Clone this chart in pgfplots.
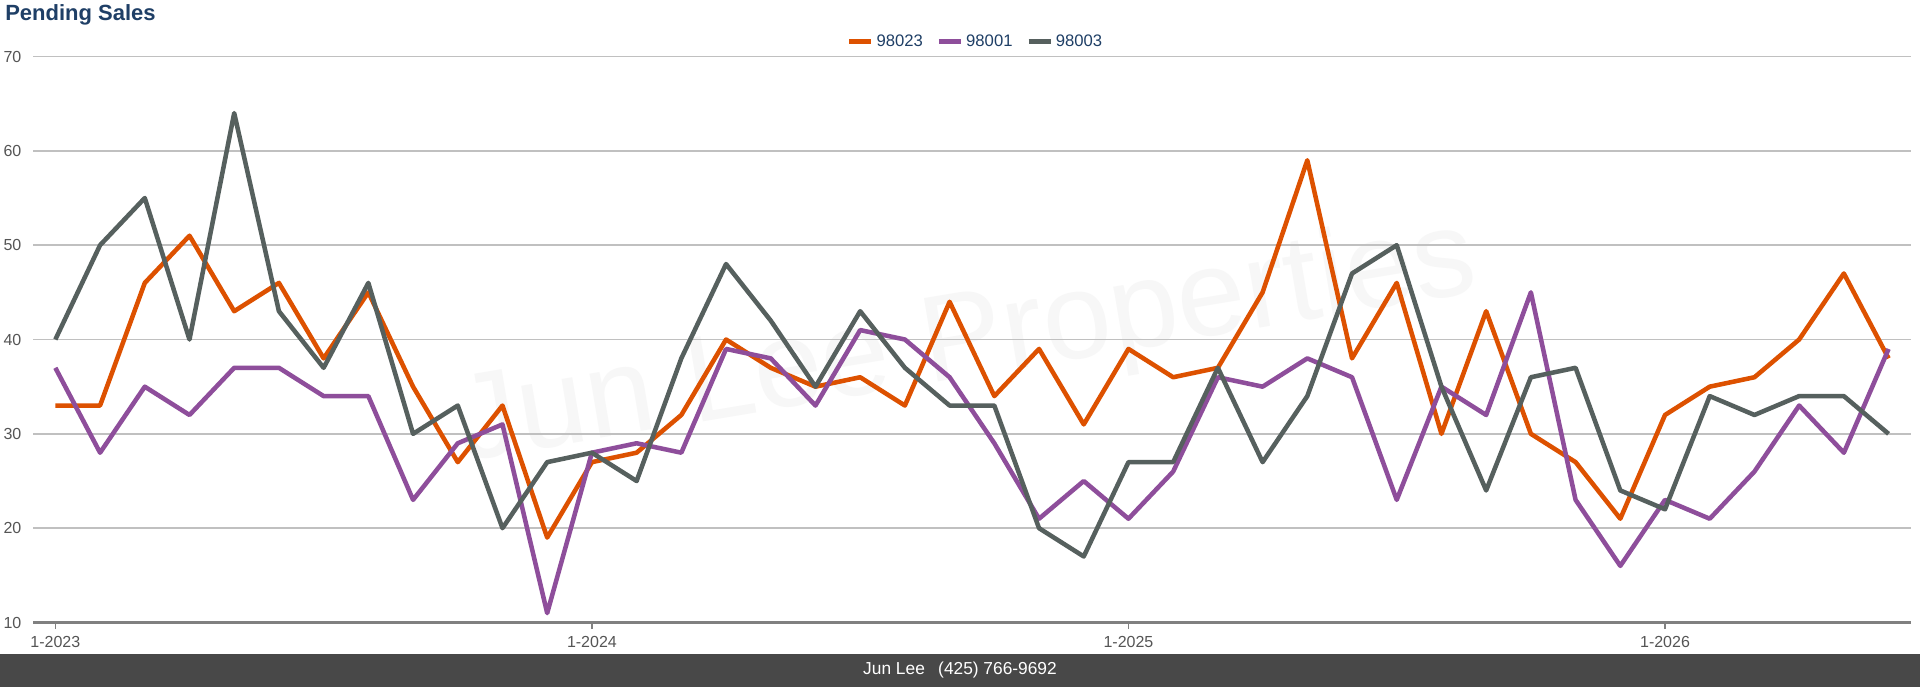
\documentclass[border=0pt]{standalone}
\usepackage{pgfplots}
\pgfplotsset{compat=1.18}
\usepackage{pgfplotstable}
\usepackage{fontspec}
\setmainfont{Liberation Sans}
\definecolor{cOr}{RGB}{221,81,0}
\definecolor{cPu}{RGB}{142,78,155}
\definecolor{cGr}{RGB}{86,96,94}
\definecolor{cTitle}{RGB}{31,63,102}
\definecolor{cFoot}{RGB}{72,72,72}
\definecolor{cTick}{RGB}{85,85,85}
\definecolor{cGrid}{RGB}{192,192,192}
\definecolor{cAxis}{RGB}{128,128,128}
\pgfplotstableread{
i o p g
0 33 37 40
1 33 28 50
2 46 35 55
3 51 32 40
4 43 37 64
5 46 37 43
6 38 34 37
7 45 34 46
8 35 23 30
9 27 29 33
10 33 31 20
11 19 11 27
12 27 28 28
13 28 29 25
14 32 28 38
15 40 39 48
16 37 38 42
17 35 33 35
18 36 41 43
19 33 40 37
20 44 36 33
21 34 29 33
22 39 21 20
23 31 25 17
24 39 21 27
25 36 26 27
26 37 36 37
27 45 35 27
28 59 38 34
29 38 36 47
30 46 23 50
31 30 35 35
32 43 32 24
33 30 45 36
34 27 23 37
35 21 16 24
36 32 23 22
37 35 21 34
38 36 26 32
39 40 33 34
40 47 28 34
41 38 39 30
}\data
\begin{document}
\begin{tikzpicture}[x=0.75pt,y=0.75pt]
\path[use as bounding box,fill=white] (0,0) rectangle (1920,687);
% watermark
\node[rotate=9.5,text=black!3,font=\fontsize{92}{92}\selectfont] at (967,342) {Jun Lee Properties};
% footer
\fill[cFoot] (0,0) rectangle (1920,33);
\node[text=white,font=\fontsize{13}{15}\selectfont] at (960,16.5) {Jun Lee\hspace{10pt}(425) 766-9692};
% title
\node[anchor=base west,inner sep=0pt,text=cTitle,font=\fontsize{16.5}{18}\selectfont\bfseries] at (5,666) {Pending Sales};
\begin{axis}[
  at={(24.75pt,48.375pt)}, anchor=south west,
  scale only axis, width=1408.5pt, height=424.5pt,
  xmin=-0.5, xmax=41.5, ymin=10, ymax=70,
  ytick={10,20,...,70},
  xtick={0,12,24,36},
  xticklabels={1-2023,1-2024,1-2025,1-2026},
  axis x line*=bottom, axis y line*=left,
  y axis line style={draw=none},
  x axis line style={cAxis,line width=1.6pt},
  ytick style={draw=none},
  xtick style={cAxis,line width=1.2pt},
  tick align=outside, major tick length=5pt,
  ymajorgrids, grid style={cGrid,line width=1.1pt},
  /pgf/number format/assume math mode=true,
  tick label style={text=cTick,font=\fontsize{12}{14}\selectfont},
  yticklabel style={anchor=east,inner sep=0pt,xshift=-3.5pt},
  xticklabel style={anchor=north,inner sep=0pt,yshift=-5pt},
  clip=false,
  legend columns=3,
  legend style={draw=none,fill=none,at={(0.502,1.027)},anchor=center,
    font=\fontsize{12.5}{14}\selectfont,text=cTitle,
    /tikz/every even column/.append style={column sep=8pt}},
  legend image code/.code={\draw[line width=4pt] (0pt,0pt) -- (16.5pt,0pt);},
  every axis plot/.append style={line width=3.4pt,line join=round,mark=none},
]
\addplot[cOr] table[x=i,y=o] {\data};
\addlegendentry{98023}
\addplot[cPu] table[x=i,y=p] {\data};
\addlegendentry{98001}
\addplot[cGr] table[x=i,y=g] {\data};
\addlegendentry{98003}
\end{axis}
\end{tikzpicture}
\end{document}
